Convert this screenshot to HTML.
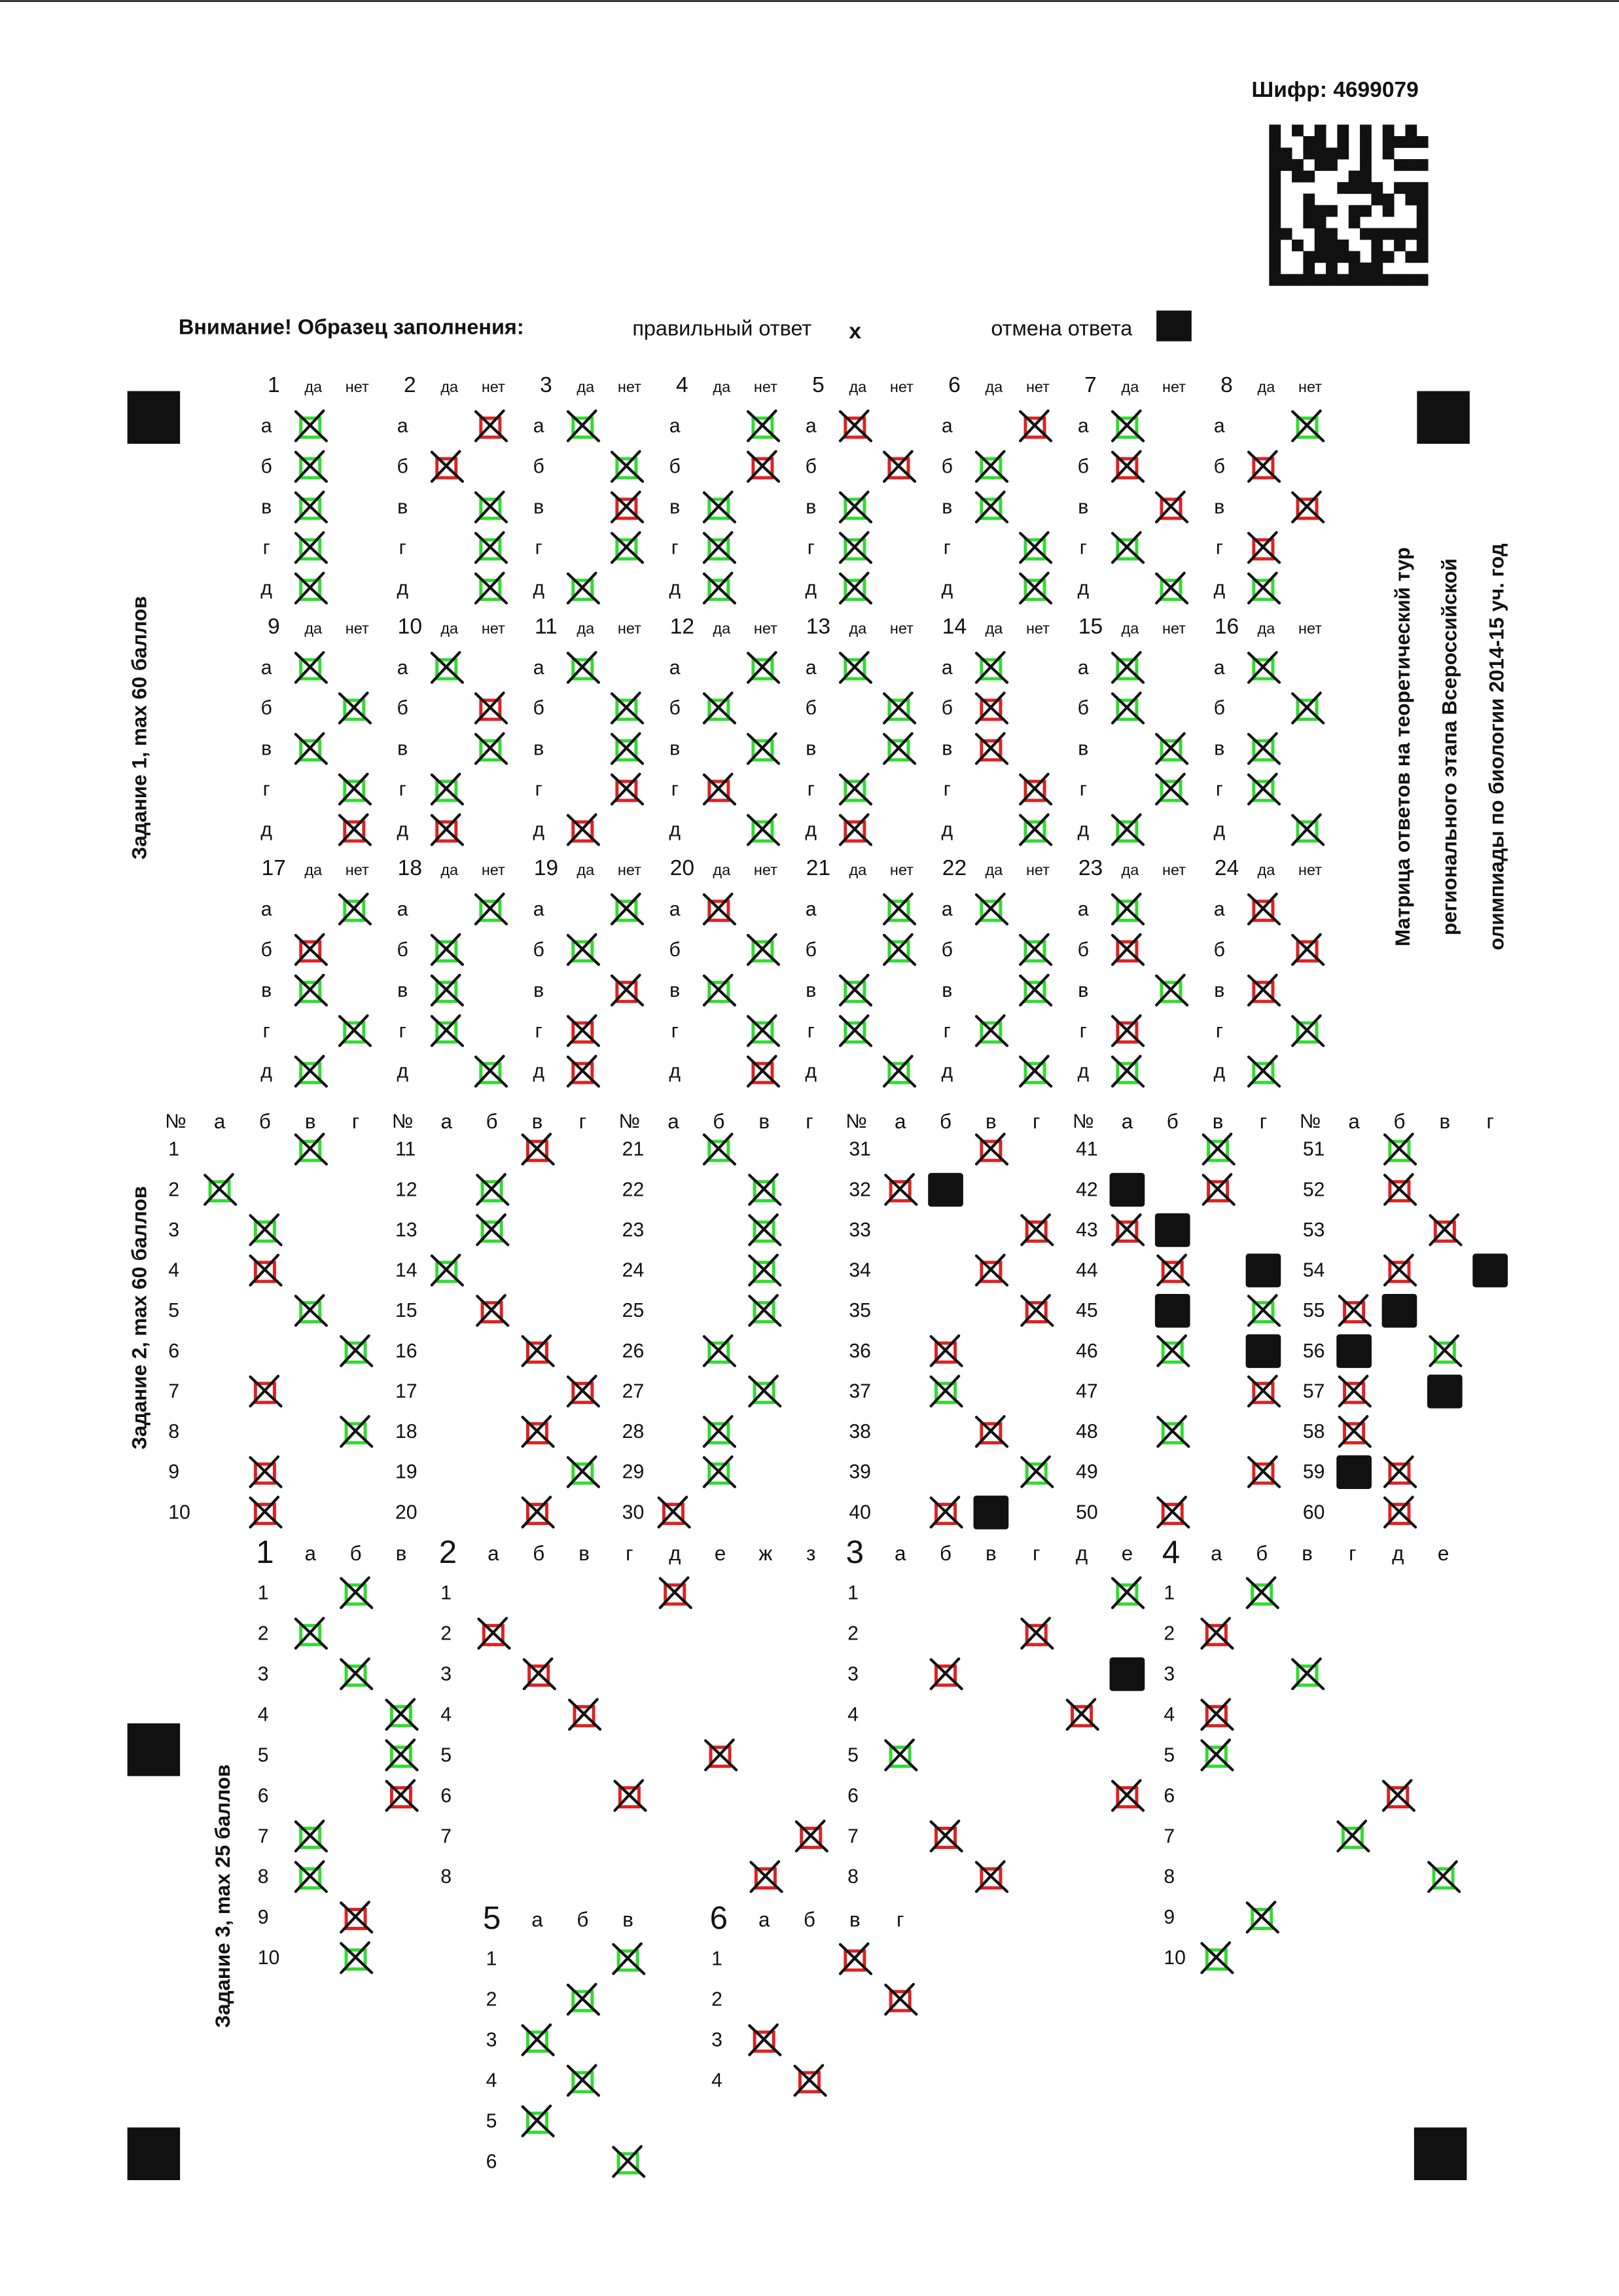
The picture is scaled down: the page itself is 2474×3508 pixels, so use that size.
<!DOCTYPE html>
<html><head><meta charset="utf-8"><style>
html,body{margin:0;padding:0;background:#fff}
svg{display:block}
text{font-family:"Liberation Sans",sans-serif;fill:#111}
</style></head><body>
<svg id="sheet" width="2474" height="3508" viewBox="0 0 1106 1568" xmlns="http://www.w3.org/2000/svg">
<rect x="0" y="0" width="1106" height="1568" fill="#fff"/>
<line x1="0" y1="0.6" x2="1106" y2="0.6" stroke="#222" stroke-width="1.2"/>
<text x="855" y="66" font-size="15" font-weight="bold">Шифр: 4699079</text>
<g id="dm"></g>
<text x="122" y="228" font-size="14.5" font-weight="bold">Внимание! Образец заполнения:</text>
<text x="432" y="229" font-size="14.5">правильный ответ</text>
<text x="580" y="231" font-size="15" font-weight="bold">x</text>
<text x="677" y="229" font-size="14.5">отмена ответа</text>
<rect x="790" y="212" width="24" height="21" fill="#111"/>
<rect x="87" y="267" width="36" height="36" fill="#111"/>
<rect x="968" y="267" width="36" height="36" fill="#111"/>
<rect x="87" y="1177" width="36" height="36" fill="#111"/>
<rect x="87" y="1453" width="36" height="36" fill="#111"/>
<rect x="966" y="1453" width="36" height="36" fill="#111"/>
<text transform="translate(100,497) rotate(-90)" text-anchor="middle" font-size="14" font-weight="bold">Задание 1, max 60 баллов</text>
<text transform="translate(100,900) rotate(-90)" text-anchor="middle" font-size="14" font-weight="bold">Задание 2, max 60 баллов</text>
<text transform="translate(157,1295) rotate(-90)" text-anchor="middle" font-size="14" font-weight="bold">Задание 3, max 25 баллов</text>
<text transform="translate(963,510) rotate(-90)" text-anchor="middle" font-size="14" font-weight="bold">Матрица ответов на теоретический тур</text>
<text transform="translate(995,510) rotate(-90)" text-anchor="middle" font-size="14" font-weight="bold">регионального этапа Всероссийской</text>
<text transform="translate(1027,510) rotate(-90)" text-anchor="middle" font-size="14" font-weight="bold">олимпиады по биологии 2014-15 уч. год</text>
<g id="marks"></g>
</svg>
<script>
// Section 1: yes/no answers per question (0 = да, 1 = нет) and colours (g/r)
const s1Choice = [
 [0,0,0,0,0],[1,0,1,1,1],[0,1,1,1,0],[1,1,0,0,0],[0,1,0,0,0],[1,0,0,1,1],[0,0,1,0,1],[1,0,1,0,0],
 [0,1,0,1,1],[0,1,1,0,0],[0,1,1,1,0],[1,0,1,0,1],[0,1,1,0,0],[0,0,0,1,1],[0,0,1,1,0],[0,1,0,0,1],
 [1,0,0,1,0],[1,0,0,0,1],[1,0,1,0,0],[0,1,0,1,1],[1,1,0,0,1],[0,1,1,0,1],[0,0,1,0,0],[0,1,0,1,0]
];
const s1Color = [
 "ggggg","rrggg","ggrgg","grggg","rrggg","rgggg","grrgg","grrrg",
 "ggggr","grggr","gggrr","gggrg","ggggr","grrrg","ggggg","ggggg",
 "grggg","ggggg","ggrrr","rgggr","ggggg","ggggg","grgrg","rrrgg"
];
// Section 2: chosen option index (0..3), colour, and cancelled (black) option (-1 none)
const s2Choice = [2,0,1,1,2,3,1,3,1,1, 2,1,1,0,1,2,3,2,3,2, 1,2,2,2,2,1,2,1,1,0,
  2,0,3,2,3,1,1,2,3,1, 2,2,0,1,3,1,3,1,3,1, 1,1,2,1,0,2,0,0,1,1];
const s2Color = "gggrggrgrr"+"rgggrrrrgr"+"gggggggggr"+"rrrrrrgrgr"+"grrrggrgrr"+"grrrrgrrrr";
const s2Cancel = [-1,-1,-1,-1,-1,-1,-1,-1,-1,-1, -1,-1,-1,-1,-1,-1,-1,-1,-1,-1, -1,-1,-1,-1,-1,-1,-1,-1,-1,-1,
  -1,1,-1,-1,-1,-1,-1,-1,-1,2, -1,0,1,3,1,3,-1,-1,-1,-1, -1,-1,-1,3,1,0,2,-1,0,-1];
// Section 3 tasks
const t1Choice = [1,0,1,2,2,2,0,0,1,1]; const t1Color = "gggggrggrg";
const t2Choice = [4,0,1,2,5,3,7,6]; const t2Color = "rrrrrrrr";
const t3Choice = [5,3,1,4,0,5,1,2]; const t3Color = "grrrgrrr"; const t3Cancel = [-1,-1,5,-1,-1,-1,-1,-1];
const t4Choice = [1,0,2,0,0,4,3,5,1,0]; const t4Color = "grgrgrgggg";
const t5Choice = [2,1,0,1,0,2]; const t5Color = "gggggg";
const t6Choice = [2,3,0,1]; const t6Color = "rrrr";
const yesNo = ["да","нет"];
const letters5 = ["а","б","в","г","д"];
const optsABCD = ["а","б","в","г"];
const opts8 = ["а","б","в","г","д","е","ж","з"];
const opts6 = ["а","б","в","г","д","е"];
const dmRows = ["10101010101010","10011010101111","11011110101000","11101100100111","10110001100000","10000011110111","10010000011011","10011101101001","10011001000001","11001100111111","10101110010101","10011111011011","10010101110000","11111111111111"];

const NS = "http://www.w3.org/2000/svg";
const G = document.getElementById("marks");
const COL = {g:"#2fdc2f", r:"#e02020"};
function el(tag, attrs, parent){ const e=document.createElementNS(NS,tag); for(const k in attrs) e.setAttribute(k,attrs[k]); (parent||G).appendChild(e); return e; }
function txt(x,y,s,size,name,anchor){ const t=el("text",{x:x,y:y,"font-size":size,"dominant-baseline":"central","text-anchor":anchor||"middle"}); t.textContent=s;
  
  
  return t; }
function mark(cx,cy,c,name){ const g=el("g",{});
  
  
  el("rect",{x:cx-6.5,y:cy-5.5,width:13,height:13,fill:"none",stroke:COL[c],"stroke-width":2.2},g);
  el("line",{x1:cx-10,y1:cy-10,x2:cx+11,y2:cy+10,stroke:"#111","stroke-width":1.9,"stroke-linecap":"round"},g);
  el("line",{x1:cx+9,y1:cy-10.5,x2:cx-10,y2:cy+10,stroke:"#111","stroke-width":1.9,"stroke-linecap":"round"},g);
}
function black(cx,cy,name){ const r=el("rect",{x:cx-12,y:cy-11.5,width:24,height:23,fill:"#111",rx:2});
  
  
}
// datamatrix
const dm=document.getElementById("dm");
dmRows.forEach((row,i)=>{ for(let j=0;j<row.length;j++) if(row[j]==="1"){ const r=el("rect",{x:867+j*7.75,y:85+i*7.85,width:7.95,height:8.05,fill:"#111"},dm);
  
   } });

// Section 1
s1Choice.forEach((ans,q)=>{
  const c=q%8, g=Math.floor(q/8);
  const nx=187+93*c, hy=263+165*g;
  txt(nx,hy,String(q+1),15,"s1-question-number");
  txt(nx+27,hy+1,yesNo[0],10.5,"s1-yes-header");
  txt(nx+57,hy+1,yesNo[1],10.5,"s1-no-header");
  ans.forEach((a,r)=>{
    const y=291+165*g+27.7*r;
    txt(nx-5,y,letters5[r],13.5,"s1-statement-letter");
    mark(nx+25+30*a,y,s1Color[q][r],"s1-answer-mark");
  });
});

// Section 2
for(let k=0;k<6;k++){
  const nx=120+155*k;
  txt(nx,766,"№",13.5,"s2-number-header");
  optsABCD.forEach((o,j)=>txt(nx+30+31*j,766,o,14,"s2-option-header"));
  for(let i=0;i<10;i++){
    const q=k*10+i, y=785+27.55*i;
    txt(nx-5,y,String(q+1),13.5,"s2-question-number","start");
    mark(nx+30+31*s2Choice[q],y,s2Color[q],"s2-answer-mark");
    if(s2Cancel[q]>=0) black(nx+30+31*s2Cancel[q],y,"s2-cancelled-answer");
  }
}

// Section 3
function task(num,hx,hy,opts,choice,color,cancel,numX){
  txt(hx,hy,String(num),22,"task-number");
  opts.forEach((o,j)=>txt(hx+31*(j+1),hy+1,o,14,"task-option-header"));
  choice.forEach((a,i)=>{
    const y=hy+28+27.7*i;
    txt(numX,y,String(i+1),13.5,"task-row-number","start");
    mark(hx+31*(a+1),y,color[i],"task-answer-mark");
    if(cancel && cancel[i]>=0) black(hx+31*(cancel[i]+1),y,"task-cancelled-answer");
  });
}
task(1,181,1060,["а","б","в"],t1Choice,t1Color,null,176);
task(2,306,1060,opts8,t2Choice,t2Color,null,301);
task(3,584,1060,opts6,t3Choice,t3Color,t3Cancel,579);
task(4,800,1060,opts6,t4Choice,t4Color,null,795);
task(5,336,1310,["а","б","в"],t5Choice,t5Color,null,332);
task(6,491,1310,optsABCD,t6Choice,t6Color,null,486);
</script>
</body></html>
